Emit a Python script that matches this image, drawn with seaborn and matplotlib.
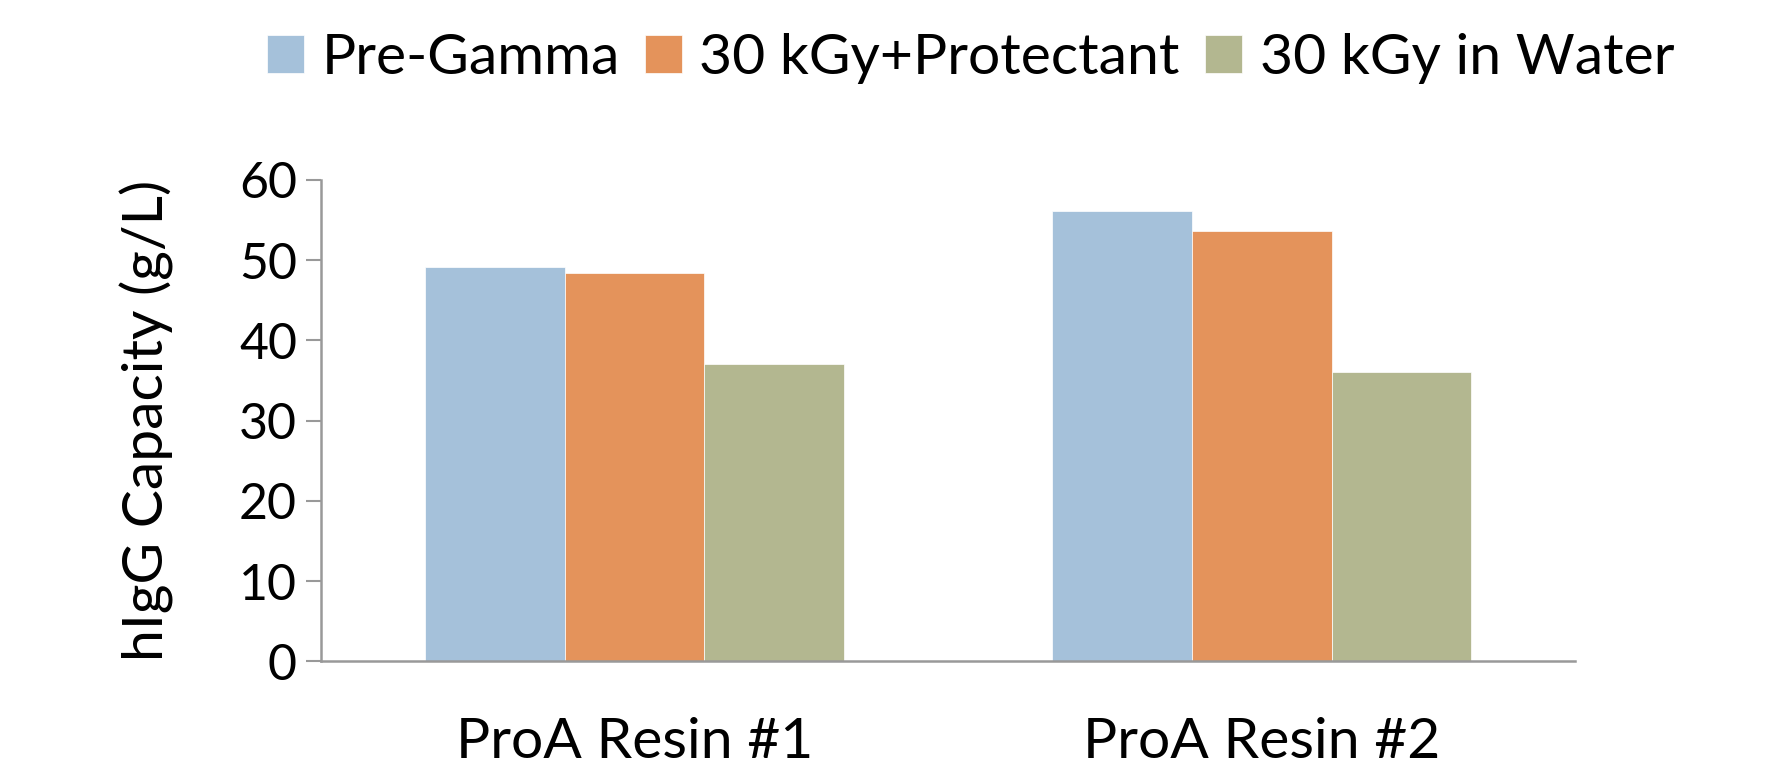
# hIgG capacity of ProA resins before/after gamma irradiation
import pandas as pd
import matplotlib.pyplot as plt
import seaborn as sns

# Data
resins = ["ProA Resin #1", "ProA Resin #2"]
conditions = ["Pre-Gamma", "30 kGy+Protectant", "30 kGy in Water"]
pre_gamma = [49.1, 56.1]
protectant = [48.4, 53.6]
in_water = [37.0, 36.0]
colors = ["#A5C1DA", "#E4935B", "#B3B790"]

df = pd.DataFrame({
    "resin": resins * 3,
    "condition": [c for c in conditions for _ in resins],
    "capacity": pre_gamma + protectant + in_water,
})

sns.set_style("white")
plt.rcParams["font.family"] = ["Lato", "DejaVu Sans"]
plt.rcParams["text.color"] = "black"
plt.rcParams["axes.labelcolor"] = "black"
plt.rcParams["xtick.color"] = "black"
plt.rcParams["ytick.color"] = "black"

fig = plt.figure(figsize=(17.81, 7.76), dpi=100)
ax = fig.add_axes([0.18, 0.1476, 0.7046, 0.6208])

sns.barplot(data=df, x="resin", y="capacity", hue="condition",
            hue_order=conditions, palette=colors, width=0.667,
            saturation=1, linewidth=0.5, edgecolor="white", ax=ax, legend=True)

ax.set_ylim(0, 60)
ax.set_xlim(-0.5, 1.5)
ax.set_yticks(range(0, 61, 10))
ax.set_xlabel("")
ax.set_ylabel("hIgG Capacity (g/L)", fontsize=41, labelpad=47)
ax.tick_params(axis="y", labelsize=36, length=11, width=1.5, color="#999999",
               labelcolor="black", direction="out", left=True, pad=6)
ax.tick_params(axis="x", labelsize=41, length=0, pad=40, labelcolor="black")

for s in ["top", "right"]:
    ax.spines[s].set_visible(False)
for s in ["left", "bottom"]:
    ax.spines[s].set_color("#999999")
    ax.spines[s].set_linewidth(1.8)

handles, labels = ax.get_legend_handles_labels()
ax.get_legend().remove()
fig.legend(handles, labels, loc="center", bbox_to_anchor=(0.545, 0.925),
           ncol=3, frameon=False, fontsize=41, handlelength=0.65,
           handleheight=0.65, handletextpad=0.3, columnspacing=0.45)

fig.savefig("out.png", dpi=100)
